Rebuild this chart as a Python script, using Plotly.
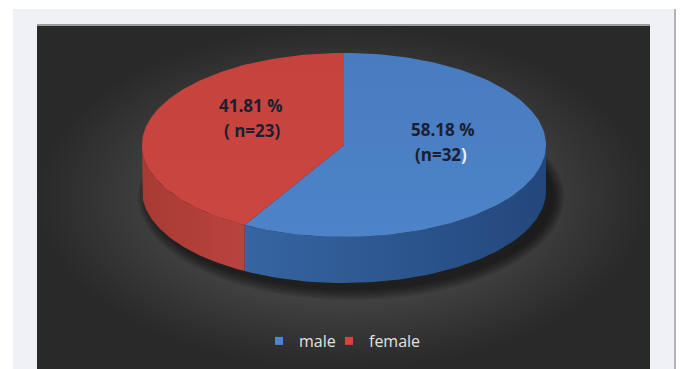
import numpy as np
import plotly.graph_objects as go

# ---- data ----
labels = ["male", "female"]
counts = [32, 23]
percents = [58.18, 41.81]
pct_text = ["58.18 %", "41.81 %"]
n_text = ["(n=32<span style='color:#e6eefa'>)</span>", "( n=23)"]

# ---- styles ----
top_colors = [["#4d83c8", "#487cc0"], ["#cb4641", "#c6423d"]]
side_colors = [["#3665a2", "#23477c"], ["#a83a34", "#b9443d"]]
legend_colors = ["#4a86d4", "#d5443e"]
legend_left = [259, 329]

W, H = 680, 369
cx, cy, a, b, depth = 344, 145, 202, 92, 46

def pt(theta_deg, dy=0.0, ra=a, rb=b, ox=0.0):
    t = np.radians(theta_deg)
    return cx + ox + ra * np.sin(t), cy - rb * np.cos(t) + dy

total = float(sum(percents))
bounds = [0.0]
for p in percents:
    bounds.append(bounds[-1] + 360.0 * p / total)

fig = go.Figure()

# background dark panel (radial gradient)
fig.add_trace(go.Scatter(
    x=[37, 650, 650, 37, 37], y=[26, 26, H, H, 26], mode="lines",
    line=dict(width=0), fill="toself",
    fillgradient=dict(type="radial", colorscale=[[0, "#525252"], [0.6, "#414141"], [1, "#292929"]]),
    hoverinfo="skip", showlegend=False))

# soft shadow under the pie
for k in range(6):
    th = np.linspace(0, 360, 181)
    xs, ys = pt(th, dy=depth + 6, ra=a + 1 + 2 * k, rb=b + 1 + 2 * k, ox=7)
    fig.add_trace(go.Scatter(x=xs, y=ys, mode="lines", line=dict(width=0),
                             fill="toself", fillcolor="rgba(0,0,0,0.11)",
                             hoverinfo="skip", showlegend=False))

# side walls (front half only)
for i in range(len(percents)):
    s, e = max(bounds[i], 90.0), min(bounds[i + 1], 270.0)
    if e <= s:
        continue
    th = np.linspace(s, e, 80)
    x1, y1 = pt(th)
    x2, y2 = pt(th[::-1], dy=depth)
    fig.add_trace(go.Scatter(
        x=np.concatenate([x1, x2, x1[:1]]), y=np.concatenate([y1, y2, y1[:1]]),
        mode="lines", line=dict(width=0), fill="toself",
        fillgradient=dict(type="horizontal",
                          colorscale=[[0, side_colors[i][0]], [1, side_colors[i][1]]]),
        hoverinfo="skip", showlegend=False))

# top faces
for i in range(len(percents)):
    th = np.linspace(bounds[i], bounds[i + 1], 120)
    xs, ys = pt(th)
    fig.add_trace(go.Scatter(
        x=np.concatenate([[cx], xs, [cx]]), y=np.concatenate([[cy], ys, [cy]]),
        mode="lines", line=dict(width=0), fill="toself",
        fillgradient=dict(type="vertical",
                          colorscale=[[0, top_colors[i][0]], [1, top_colors[i][1]]]),
        hoverinfo="skip", showlegend=False))

# legend entries (one legend box per entry for tight spacing)
legend_ids = ["legend", "legend2"]
for i, lab in enumerate(labels):
    fig.add_trace(go.Scatter(x=[None], y=[None], mode="markers", name=lab,
                             legend=legend_ids[i],
                             marker=dict(symbol="square", size=8, color=legend_colors[i])))

# labels
label_pos = [(442, 129, 441, 154), (250, 105, 252, 130)]
txt_font = dict(family="Open Sans", size=17, color="#1a2030")
for i in range(len(percents)):
    x1, y1, x2, y2 = label_pos[i]
    fig.add_annotation(x=x1, y=y1, text="<b>%s</b>" % pct_text[i], showarrow=False,
                       font=txt_font, xanchor="center", yanchor="middle")
    fig.add_annotation(x=x2, y=y2, text="<b>%s</b>" % n_text[i], showarrow=False,
                       font=txt_font, xanchor="center", yanchor="middle")

leg_common = dict(orientation="h", xanchor="left", y=1 - 341 / H, yanchor="middle",
                  bgcolor="rgba(0,0,0,0)",
                  font=dict(family="Open Sans", size=16, color="#e2e2e2"),
                  itemwidth=30)

fig.update_layout(
    width=W, height=H, margin=dict(l=0, r=0, t=0, b=0),
    paper_bgcolor="white", plot_bgcolor="white",
    xaxis=dict(range=[0, W], visible=False, fixedrange=True),
    yaxis=dict(range=[H, 0], visible=False, fixedrange=True),
    showlegend=True,
    legend=dict(x=legend_left[0] / W, **leg_common),
    legend2=dict(x=legend_left[1] / W, **leg_common),
    shapes=[
        dict(type="rect", xref="x", yref="y", x0=13, x1=674, y0=9, y1=H + 5,
             fillcolor="#f0f1f6", line=dict(width=0), layer="below"),
        dict(type="line", xref="x", yref="y", x0=675, x1=675, y0=9, y1=H + 5,
             line=dict(color="#9a9a9a", width=1.5), layer="below"),
        dict(type="line", xref="x", yref="y", x0=37, x1=650, y0=25, y1=25,
             line=dict(color="#9c9c9c", width=2), layer="above"),
    ],
)

fig.write_html("out.html")
